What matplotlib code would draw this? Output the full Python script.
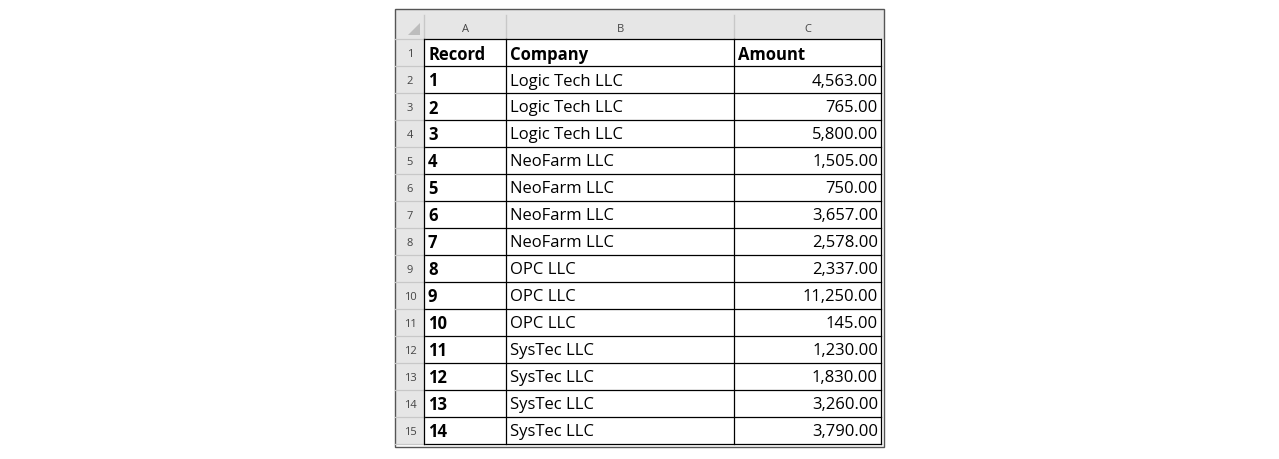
import matplotlib
matplotlib.use("Agg")
import matplotlib.pyplot as plt
from matplotlib.patches import Rectangle

col_letters = ["A", "B", "C"]
headers = ["Record", "Company", "Amount"]
records = [1, 2, 3, 4, 5, 6, 7, 8, 9, 10, 11, 12, 13, 14]
companies = ["Logic Tech LLC"] * 3 + ["NeoFarm LLC"] * 4 + ["OPC LLC"] * 3 + ["SysTec LLC"] * 4
amounts = [4563, 765, 5800, 1505, 750, 3657, 2578, 2337, 11250, 145, 1230, 1830, 3260, 3790]

fig = plt.figure(figsize=(12.79, 4.6), dpi=100)
ax = fig.add_axes([0, 0, 1, 1])
ax.set_xlim(0, 1279); ax.set_ylim(460, 0); ax.axis("off")

xs = [395, 424, 506, 734, 881]
top, hdr, rh = 10, 40, 27
nrows = 15
bottom = hdr + nrows * rh
gray = "#e6e6e6"
font = "Open Sans"

ax.add_patch(Rectangle((395, top), 884 - 395, 448 - top, fc="white", ec="none"))
ax.add_patch(Rectangle((395, top), 884 - 395, hdr - top, fc=gray, ec="none"))
ax.add_patch(Rectangle((395, hdr), 424 - 395, bottom - hdr, fc=gray, ec="none"))
ax.add_patch(Rectangle((395, top), 884 - 395, 448 - top, fc="none", ec="#555555", lw=1))
# corner triangle
ax.add_patch(plt.Polygon([[420, 24], [420, 36], [408, 36]], fc="#bdbdbd", ec="none"))

# header separators
for x in xs[1:4]:
    ax.plot([x, x], [top + 6, hdr], color="#c8c8c8", lw=1)
for i, L in enumerate(col_letters):
    ax.text((xs[i + 1] + xs[i + 2]) / 2, 29, L, ha="center", va="center", fontsize=8, color="#444444", family=font)
# grid
for r in range(nrows + 1):
    y = hdr + r * rh
    ax.plot([424, 881], [y, y], color="black", lw=0.9)
    ax.plot([395, 424], [y, y], color="#c8c8c8", lw=0.9)
for x in xs[1:]:
    ax.plot([x, x], [hdr, bottom], color="black", lw=0.9)

for r in range(nrows):
    yc = hdr + r * rh + rh / 2 + 1
    ax.text(410, yc, str(r + 1), ha="center", va="center", fontsize=8, color="#444444", family=font)

ax.text(428, hdr + rh / 2 + 1, headers[0], ha="left", va="center", fontsize=12, weight="bold", family=font)
ax.text(510, hdr + rh / 2 + 1, headers[1], ha="left", va="center", fontsize=12, weight="bold", family=font)
ax.text(738, hdr + rh / 2 + 1, headers[2], ha="left", va="center", fontsize=12, weight="bold", family=font)
for i, (rec, comp, amt) in enumerate(zip(records, companies, amounts)):
    yc = hdr + (i + 1) * rh + rh / 2 + 1
    ax.text(428, yc, str(rec), ha="left", va="center", fontsize=12, weight="bold", family=font)
    ax.text(510, yc, comp, ha="left", va="center", fontsize=12, family=font)
    ax.text(878, yc, f"{amt:,.2f}", ha="right", va="center", fontsize=12, family=font)

fig.savefig("out.png", dpi=100)
